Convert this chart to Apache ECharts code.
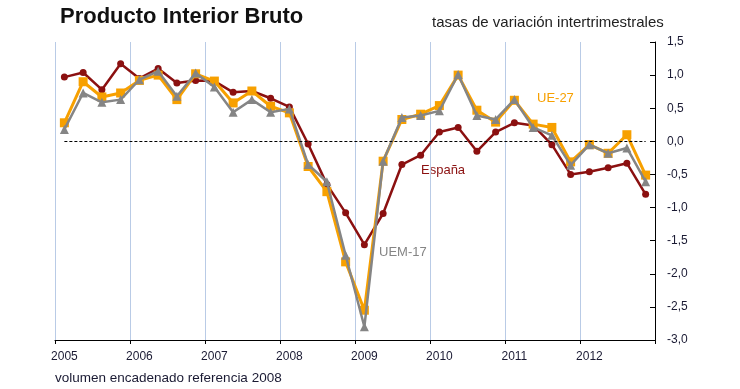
<!DOCTYPE html>
<html>
<head>
<meta charset="utf-8">
<script src="https://cdn.jsdelivr.net/npm/echarts@6/dist/echarts.min.js"></script>
<style>html,body{margin:0;padding:0;background:#fff;}#c{width:740px;height:389px;}</style>
</head>
<body>
<div id="c"></div>
<script>
var years = ['2005','2006','2007','2008','2009','2010','2011','2012'];
var quarters = [];
years.forEach(function(y){ for (var q=1;q<=4;q++) quarters.push(y+'T'+q); });
var yTicks = [-3.0,-2.5,-2.0,-1.5,-1.0,-0.5,0.0,0.5,1.0,1.5];

var espana = [0.97,1.04,0.78,1.17, 0.95,1.10,0.88,0.92, 0.91,0.74,0.76,0.65, 0.52,-0.04,-0.65,-1.08, -1.56,-1.09,-0.35,-0.21, 0.14,0.21,-0.15,0.14, 0.28,0.24,-0.05,-0.50, -0.46,-0.40,-0.33,-0.80];
var ue27 = [0.28,0.90,0.67,0.73, 0.92,1.00,0.63,1.02, 0.91,0.58,0.76,0.53, 0.43,-0.38,-0.76,-1.82, -2.55,-0.30,0.33,0.41, 0.54,1.00,0.47,0.29, 0.62,0.26,0.21,-0.31, -0.05,-0.18,0.10,-0.51];
var uem17 = [0.18,0.73,0.59,0.63, 0.93,1.06,0.68,1.03, 0.82,0.44,0.63,0.44, 0.49,-0.35,-0.61,-1.72, -2.80,-0.30,0.36,0.39, 0.46,1.01,0.39,0.33, 0.63,0.21,0.09,-0.36, -0.05,-0.18,-0.10,-0.61];

var chart = echarts.init(document.getElementById('c'));
var narrow = "'Liberation Sans Narrow','Arial Narrow','Liberation Sans',Arial,sans-serif";
var sans = "'Liberation Sans',Arial,sans-serif";
function yearStep(i){ return i % 4 === 0; }

chart.setOption({
  animation: false,
  backgroundColor: '#fff',
  title: [
    {text: 'Producto Interior Bruto', left: 60, top: 6, padding: 0,
     textStyle: {fontFamily: narrow, fontWeight: 'bold', fontSize: 22, color: '#111'}},
    {text: 'tasas de variación intertrimestrales', left: 432, top: 15, padding: 0,
     textStyle: {fontFamily: sans, fontWeight: 'normal', fontSize: 15, color: '#222'}}
  ],
  grid: {left: 55, right: 85, top: 42, bottom: 49},
  xAxis: {
    type: 'category',
    data: quarters,
    boundaryGap: true,
    axisLine: {onZero: false, lineStyle: {color: '#000', width: 1}},
    axisTick: {show: true, interval: function(i){ return yearStep(i); }, length: 4, lineStyle: {color: '#000'}},
    axisLabel: {interval: 0, margin: 11, fontFamily: sans, fontSize: 12, color: '#1a1a33',
      formatter: function(v, i){ return yearStep(i) ? years[i/4] : ''; }},
    splitLine: {show: true, interval: function(i){ return yearStep(i); }, lineStyle: {color: '#b9cbe6', width: 1}}
  },
  yAxis: {
    type: 'value',
    position: 'right',
    min: yTicks[0], max: yTicks[yTicks.length-1], interval: 0.5,
    axisLine: {show: true, lineStyle: {color: '#000', width: 1}},
    axisTick: {show: true, inside: true, length: 5, lineStyle: {color: '#000'}},
    splitLine: {show: false},
    axisLabel: {margin: 12, fontFamily: sans, fontSize: 12, color: '#1a1a33',
      formatter: function(v){ return v.toFixed(1).replace('.', ','); }}
  },
  series: [
    {name: 'España', type: 'line', data: espana, symbol: 'circle', symbolSize: 7,
     lineStyle: {color: '#8b1010', width: 2.5}, itemStyle: {color: '#8b1010'}, z: 2,
     markLine: {silent: true, symbol: 'none', label: {show: false},
       lineStyle: {color: '#000', type: [3, 2], width: 1},
       data: [[{coord: [quarters[0], 0]}, {coord: [quarters[quarters.length-1], 0]}]]}},
    {name: 'UE-27', type: 'line', data: ue27, symbol: 'rect', symbolSize: 9,
     lineStyle: {color: '#f7a000', width: 3}, itemStyle: {color: '#f7a000'}, z: 3},
    {name: 'UEM-17', type: 'line', data: uem17, symbol: 'triangle', symbolSize: 9,
     lineStyle: {color: '#858585', width: 2.5}, itemStyle: {color: '#858585'}, z: 4}
  ],
  graphic: [
    {type: 'text', left: 537, top: 92, style: {text: 'UE-27', font: '13px ' + sans, fill: '#f7a000'}},
    {type: 'text', left: 421, top: 164, style: {text: 'España', font: '13px ' + sans, fill: '#8b1010'}},
    {type: 'text', left: 379, top: 246, style: {text: 'UEM-17', font: '13px ' + sans, fill: '#858585'}},
    {type: 'text', left: 55, top: 371, style: {text: 'volumen encadenado referencia 2008', font: '13.5px ' + sans, fill: '#1a1a33'}}
  ]
});
</script>
</body>
</html>
